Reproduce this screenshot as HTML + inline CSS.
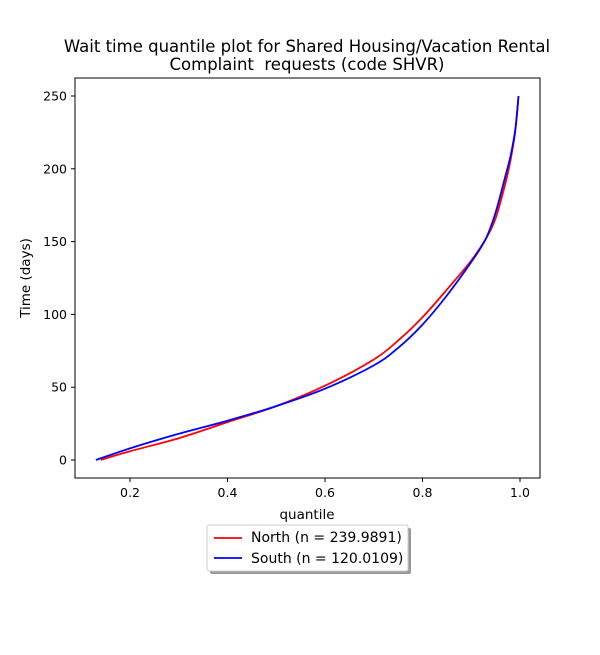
<!DOCTYPE html>
<html><head><meta charset="utf-8"><style>
body{margin:0;background:#fff;font-family:"Liberation Sans","DejaVu Sans",sans-serif;}
svg text{font-family:"DejaVu Sans","Liberation Sans",sans-serif;}
</style></head><body>
<svg id="chart" width="600" height="650" xmlns="http://www.w3.org/2000/svg">
<rect width="600" height="650" fill="#fff"/>
<text x="307" y="52" font-size="16.5" text-anchor="middle">Wait time quantile plot for Shared Housing/Vacation Rental</text>
<text x="307" y="70" font-size="16.5" text-anchor="middle" xml:space="preserve">Complaint  requests (code SHVR)</text>
<g id="plot"></g>
<rect x="75" y="78" width="465" height="400" fill="none" stroke="#000" stroke-width="1"/>
<text x="307" y="519" font-size="13.5" text-anchor="middle">quantile</text>
<text transform="translate(30,278) rotate(-90)" font-size="13.5" text-anchor="middle">Time (days)</text>
<g>
<rect x="210" y="528" width="201" height="46" fill="#999" rx="2"/>
<rect x="207" y="525" width="201" height="46" fill="#fff" stroke="#ccc" rx="2"/>
<line x1="214" y1="538" x2="242" y2="538" stroke="red" stroke-width="1.8"/>
<text x="251" y="542" font-size="14">North (n = 239.9891)</text>
<line x1="214" y1="558" x2="242" y2="558" stroke="blue" stroke-width="1.8"/>
<text x="251" y="563" font-size="14">South (n = 120.0109)</text>
</g>
</svg>
<script>
const xTicks=[0.2,0.4,0.6,0.8,1.0];
const xTickLabels=["0.2","0.4","0.6","0.8","1.0"];
const yTicks=[0,50,100,150,200,250];
const northQ=[0.14,0.2,0.3,0.4,0.5,0.6,0.7,0.75,0.8,0.85,0.9,0.93,0.95,0.97,0.98,0.99,0.997];
const northT=[0,6,15,26,37,51,69,82,98,117,137,152,166,190,205,225,250];
const southQ=[0.13,0.2,0.3,0.4,0.5,0.6,0.7,0.75,0.8,0.85,0.9,0.93,0.95,0.97,0.98,0.99,0.997];
const southT=[0,8,18,27,37,49,65,77,93,113,136,152,170,195,208,226,250];
const xs=v=>32.5+v*487.5;
const ys=v=>460-v*1.456;
const NS="http://www.w3.org/2000/svg";
const g=document.getElementById('plot');
function mk(t,a){const e=document.createElementNS(NS,t);for(const k in a)e.setAttribute(k,a[k]);g.appendChild(e);return e;}
xTicks.forEach((v,i)=>{
 const l=mk('line',{x1:xs(v),x2:xs(v),y1:478,y2:482,stroke:'#000'});
 
 
 const t=mk('text',{x:xs(v),y:497,'font-size':12.5,'text-anchor':'middle'});t.textContent=xTickLabels[i];
 
 
});
yTicks.forEach(v=>{
 const l=mk('line',{x1:71,x2:75,y1:ys(v),y2:ys(v),stroke:'#000'});
 
 
 const t=mk('text',{x:67,y:ys(v)+4.5,'font-size':12.5,'text-anchor':'end'});t.textContent=v;
 
 
});
function line(q,t,c,name){
 const P=q.map((v,i)=>[xs(v),ys(t[i])]);
 let d='M'+P[0][0].toFixed(1)+','+P[0][1].toFixed(1);
 for(let i=0;i<P.length-1;i++){
  const p0=P[Math.max(0,i-1)],p1=P[i],p2=P[i+1],p3=P[Math.min(P.length-1,i+2)];
  const c1=[p1[0]+(p2[0]-p0[0])/6,p1[1]+(p2[1]-p0[1])/6];
  const c2=[p2[0]-(p3[0]-p1[0])/6,p2[1]-(p3[1]-p1[1])/6];
  d+='C'+c1.map(n=>n.toFixed(1)).join(',')+' '+c2.map(n=>n.toFixed(1)).join(',')+' '+p2[0].toFixed(1)+','+p2[1].toFixed(1);
 }
 const p=mk('path',{d:d,fill:'none',stroke:c,'stroke-width':1.8,'stroke-linejoin':'round'});
 
 
}
line(northQ,northT,'red','north-line');
line(southQ,southT,'blue','south-line');
</script>
</body></html>
